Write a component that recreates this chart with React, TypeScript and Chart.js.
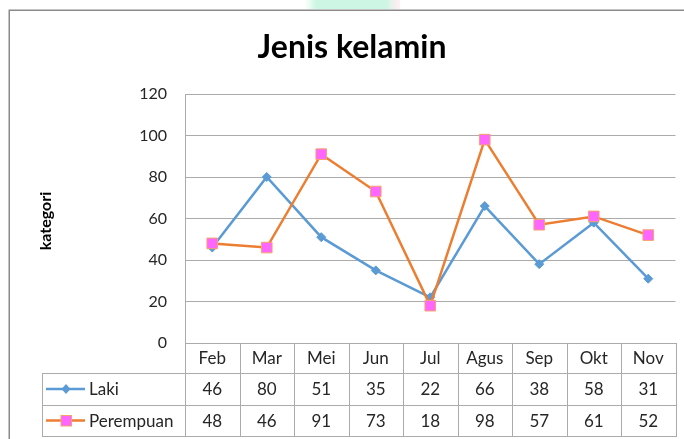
import React, { useEffect, useRef } from "react";
import { Chart, registerables } from "chart.js";

Chart.register(...registerables);

const title = "Jenis kelamin";
const yAxisTitle = "kategori";
const categories = ["Feb", "Mar", "Mei", "Jun", "Jul", "Agus", "Sep", "Okt", "Nov"];
const lakiLabel = "Laki";
const lakiValues = [46, 80, 51, 35, 22, 66, 38, 58, 31];
const perempuanLabel = "Perempuan";
const perempuanValues = [48, 46, 91, 73, 18, 98, 57, 61, 52];
const yTicks = [0, 20, 40, 60, 80, 100, 120];

const GRID = "#ababab";
const TEXT = "#262626";
const FONT = "Lato, 'Open Sans', sans-serif";

const decorPlugin = {
  id: "excelDecor",
  beforeDraw(chart: any) {
    const ctx = chart.ctx;
    ctx.save();
    ctx.fillStyle = "#ffffff";
    ctx.fillRect(0, 0, chart.width, chart.height);
    // faint watermark fragment at top
    const g = ctx.createLinearGradient(305, 0, 400, 0);
    g.addColorStop(0, "rgba(190,245,215,0)");
    g.addColorStop(0.12, "rgba(195,245,222,0.85)");
    g.addColorStop(0.85, "rgba(195,245,222,0.85)");
    g.addColorStop(1, "rgba(255,225,235,0.5)");
    ctx.fillStyle = g;
    ctx.fillRect(305, 0, 95, 9);
    // outer frame
    ctx.strokeStyle = "#8a8a8a";
    ctx.lineWidth = 1.5;
    ctx.strokeRect(9.25, 10.25, 720, 500);
    ctx.restore();
  },
  afterDraw(chart: any) {
    const ctx = chart.ctx;
    const area = chart.chartArea;
    const xs = chart.scales.x;
    ctx.save();

    // Title
    ctx.fillStyle = "#000";
    ctx.font = `bold 32px ${FONT}`;
    ctx.textAlign = "center";
    ctx.textBaseline = "alphabetic";
    ctx.fillText(title, 352, 58);

    // Y axis title
    ctx.save();
    ctx.translate(46, 221);
    ctx.rotate(-Math.PI / 2);
    ctx.font = `bold 16px ${FONT}`;
    ctx.fillStyle = "#000";
    ctx.textAlign = "center";
    ctx.textBaseline = "middle";
    ctx.fillText(yAxisTitle, 0, 0);
    ctx.restore();

    // Data table
    const n = categories.length;
    const centers = categories.map((_, i) => xs.getPixelForValue(i));
    const bounds: number[] = [area.left];
    for (let i = 0; i < n - 1; i++) bounds.push((centers[i] + centers[i + 1]) / 2);
    bounds.push(area.right);

    const top = area.bottom;
    const r1 = top + 30;
    const r2 = r1 + 32;
    const r3 = r2 + 31;
    const labelLeft = 42;

    ctx.strokeStyle = GRID;
    ctx.lineWidth = 1;
    const hline = (y: number, x0: number, x1: number) => {
      const yy = Math.round(y) + 0.5;
      ctx.beginPath();
      ctx.moveTo(x0, yy);
      ctx.lineTo(x1, yy);
      ctx.stroke();
    };
    const vline = (x: number, y0: number, y1: number) => {
      const xx = Math.round(x) + 0.5;
      ctx.beginPath();
      ctx.moveTo(xx, y0);
      ctx.lineTo(xx, y1);
      ctx.stroke();
    };
    hline(top, area.left, area.right + 0.5);
    hline(r1, labelLeft, area.right + 0.5);
    hline(r2, labelLeft, area.right + 0.5);
    hline(r3, labelLeft, area.right + 0.5);
    bounds.forEach((b) => vline(b, top, r3 + 1));
    vline(labelLeft, r1, r3 + 1);

    ctx.fillStyle = TEXT;
    ctx.font = `17px ${FONT}`;
    ctx.textAlign = "center";
    ctx.textBaseline = "middle";
    categories.forEach((c, i) => ctx.fillText(c, centers[i], (top + r1) / 2 + 1));
    lakiValues.forEach((v, i) => ctx.fillText(String(v), centers[i], (r1 + r2) / 2 + 1));
    perempuanValues.forEach((v, i) => ctx.fillText(String(v), centers[i], (r2 + r3) / 2 + 1));

    // Legend keys
    const ds = chart.data.datasets;
    const rows = [(r1 + r2) / 2, (r2 + r3) / 2];
    rows.forEach((y, k) => {
      const d = ds[k];
      ctx.strokeStyle = d.borderColor;
      ctx.lineWidth = 2.5;
      ctx.beginPath();
      ctx.moveTo(46, y);
      ctx.lineTo(85, y);
      ctx.stroke();
      if (k === 0) {
        ctx.fillStyle = d.pointBackgroundColor;
        ctx.beginPath();
        ctx.moveTo(66, y - 5);
        ctx.lineTo(70.5, y);
        ctx.lineTo(66, y + 5);
        ctx.lineTo(61.5, y);
        ctx.closePath();
        ctx.fill();
      } else {
        ctx.fillStyle = d.pointBackgroundColor;
        ctx.fillRect(61, y - 5, 10.5, 10.5);
        ctx.strokeStyle = d.pointBorderColor;
        ctx.lineWidth = 1;
        ctx.strokeRect(61, y - 5, 10.5, 10.5);
      }
      ctx.fillStyle = TEXT;
      ctx.font = `17px ${FONT}`;
      ctx.textAlign = "left";
      ctx.textBaseline = "middle";
      ctx.fillText(d.label, 89, y + 1);
    });

    ctx.restore();
  },
};

export default function App() {
  const ref = useRef<HTMLCanvasElement>(null);
  useEffect(() => {
    if (!ref.current) return;
    const chart = new Chart(ref.current, {
      type: "line",
      data: {
        labels: categories,
        datasets: [
          {
            label: lakiLabel,
            data: lakiValues,
            borderColor: "#5B9BD5",
            backgroundColor: "#5B9BD5",
            pointBackgroundColor: "#5B9BD5",
            pointBorderColor: "#5B9BD5",
            borderWidth: 2.5,
            pointStyle: "rectRot",
            pointRadius: 4.5,
            pointBorderWidth: 1,
            tension: 0,
            order: 1,
          },
          {
            label: perempuanLabel,
            data: perempuanValues,
            borderColor: "#ED7D31",
            backgroundColor: "#ED7D31",
            pointBackgroundColor: "#FF66FF",
            pointBorderColor: "#F4A46A",
            borderWidth: 2.5,
            pointStyle: "rect",
            pointRadius: 7.5,
            pointBorderWidth: 1,
            tension: 0,
            order: 0,
          },
        ],
      },
      options: {
        animation: false,
        responsive: false,
        events: [],
        layout: { padding: { top: 94, right: 8, bottom: 96, left: 0 } },
        plugins: { legend: { display: false }, title: { display: false }, tooltip: { enabled: false } },
        scales: {
          x: {
            type: "category",
            offset: true,
            display: true,
            grid: { display: false },
            border: { display: false },
            ticks: { display: false },
            afterFit: (s: any) => {
              s.height = 0;
            },
          },
          y: {
            min: yTicks[0],
            max: yTicks[yTicks.length - 1],
            afterBuildTicks: (s: any) => {
              s.ticks = yTicks.map((v) => ({ value: v }));
            },
            afterFit: (s: any) => {
              s.width = 185;
            },
            grid: { color: GRID, lineWidth: 1, drawTicks: false },
            border: { display: true, color: GRID, width: 1 },
            ticks: {
              padding: 18,
              color: TEXT,
              font: { family: FONT, size: 16 },
            },
          },
        },
      },
      plugins: [decorPlugin],
    });
    return () => chart.destroy();
  }, []);
  return (
    <div style={{ position: "fixed", left: 0, top: 0, width: 684, height: 439, background: "#fff" }}>
      <canvas ref={ref} width={684} height={439} style={{ display: "block", width: 684, height: 439 }} />
    </div>
  );
}
